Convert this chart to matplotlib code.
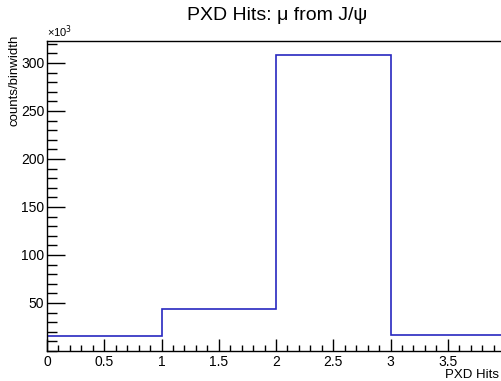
import matplotlib
matplotlib.use("Agg")
import matplotlib.pyplot as plt
from matplotlib.ticker import MultipleLocator
import numpy as np

plt.rcParams['font.family'] = ['Liberation Sans', 'DejaVu Sans']

bin_edges = [0, 1, 2, 3, 4]
counts_k = [15.6, 44.1, 308.0, 16.2]  # in units of 10^3
y_ticks = [50, 100, 150, 200, 250, 300]
x_ticks = [0, 0.5, 1, 1.5, 2, 2.5, 3, 3.5]
x_tick_labels = ["0", "0.5", "1", "1.5", "2", "2.5", "3", "3.5"]

fig = plt.figure(figsize=(5.01, 3.81), dpi=100)
ax = fig.add_axes([47/501, 30/381, 458/501, 310.5/381])

ax.stairs(counts_k, bin_edges, color='#2828c0', linewidth=1.2)
ax.set_xlim(0, 4)
ax.set_ylim(0, 1.05 * max(counts_k))

ax.set_xticks(x_ticks)
ax.set_xticklabels(x_tick_labels)
ax.set_yticks(y_ticks)
ax.xaxis.set_minor_locator(MultipleLocator(0.1))
ax.yaxis.set_minor_locator(MultipleLocator(10))
ax.tick_params(which='major', direction='in', length=9, width=1, labelsize=10, pad=3)
ax.tick_params(axis='y', which='major', length=13, pad=2)
ax.tick_params(axis='x', which='minor', direction='in', length=4.5, width=1)
ax.tick_params(axis='y', which='minor', direction='in', length=7, width=1)
ax.tick_params(top=False, right=False, which='both')
for s in ['top', 'left', 'bottom']:
    ax.spines[s].set_linewidth(1)
ax.spines['right'].set_visible(False)

fig.text(277/501, 1 - 20/381, "PXD Hits: μ from J/ψ", ha='center', va='baseline', fontsize=14)
fig.text(15/501, 1 - 35/381, "counts/binwidth", rotation=90, ha='center', va='top', fontsize=9.5)
fig.text(47/501, 1 - 37/381, "×10$^{3}$", ha='left', va='baseline', fontsize=8)
fig.text(499/501, 1 - 378/381, "PXD Hits", ha='right', va='baseline', fontsize=9.5)

fig.savefig("out.png", dpi=100)
